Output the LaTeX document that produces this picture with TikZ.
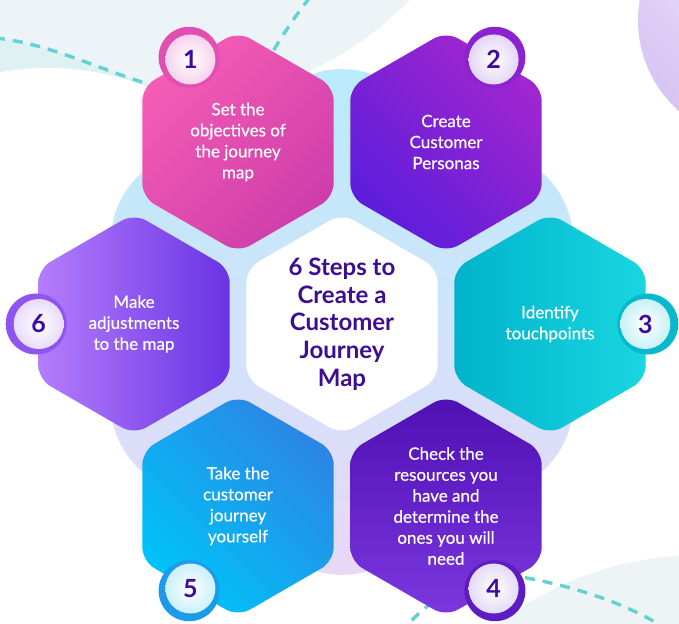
\documentclass[tikz,border=0pt]{standalone}
\usepackage{fontspec}
\setmainfont{Lato}
\newfontfamily\stepfont{Lato}[FakeBold=0.5]
\usetikzlibrary{shapes.geometric,calc,positioning}
\definecolor{PaleMist}{HTML}{ECF4F7}
\definecolor{MistLow}{HTML}{EEF3F5}
\definecolor{TealWash}{HTML}{DFF1F1}
\definecolor{DashTeal}{HTML}{62D3D5}
\definecolor{LilacTop}{HTML}{F6F2FD}
\definecolor{LilacLow}{HTML}{D7C4F3}
\definecolor{BackTop}{HTML}{B8ECFB}
\definecolor{BackMid}{HTML}{D0E3FA}
\definecolor{BackLow}{HTML}{EAD7F8}
\definecolor{TitleInk}{HTML}{3E0E92}
\definecolor{BadgeInk}{HTML}{3D0BA0}
\definecolor{PinkHi}{HTML}{F55DB4}
\definecolor{PinkLo}{HTML}{CD3DAB}
\definecolor{PinkRing}{HTML}{E24FB3}
\definecolor{PinkTint}{HTML}{F6D3EC}
\definecolor{GrapeHi}{HTML}{A226CF}
\definecolor{GrapeLo}{HTML}{5C1DDA}
\definecolor{GrapeRing}{HTML}{8B22D0}
\definecolor{GrapeTint}{HTML}{E3D6F6}
\definecolor{TealLeft}{HTML}{00B3CB}
\definecolor{TealRight}{HTML}{1AD6E1}
\definecolor{TealRing}{HTML}{0AB8CD}
\definecolor{TealTint}{HTML}{C9F1F6}
\definecolor{IndigoHi}{HTML}{4E0FB3}
\definecolor{IndigoLo}{HTML}{7B38DF}
\definecolor{IndigoRing}{HTML}{5C1CC2}
\definecolor{IndigoTint}{HTML}{E4DAF7}
\definecolor{SkyHi}{HTML}{2C85E4}
\definecolor{SkyLo}{HTML}{00C3F8}
\definecolor{SkyRing}{HTML}{1C9BEB}
\definecolor{SkyTint}{HTML}{CAF0FA}
\definecolor{VioletLeft}{HTML}{B47DFC}
\definecolor{VioletRight}{HTML}{6A33E4}
\definecolor{VioletRing}{HTML}{8E55F0}
\definecolor{VioletTint}{HTML}{E8DCFB}

\begin{document}
\begin{tikzpicture}[x=1pt,y=-1pt,
    stephex/.style={regular polygon,regular polygon sides=6,
      shape border rotate=30,minimum size=221pt,inner sep=0pt,
      rounded corners=14pt},
    steptext/.style={align=center,text=white,
      font=\stepfont\fontsize{17}{21}\selectfont},
    badgering/.style={circle,minimum size=61pt,inner sep=0pt},
    badgecore/.style={circle,minimum size=50pt,inner sep=0pt,
      text=BadgeInk,font=\fontsize{25}{25}\selectfont\bfseries},
    dashline/.style={DashTeal,line width=3.4pt,dash pattern=on 10pt off 8pt}]
        % frame
        \useasboundingbox (0,0) rectangle (679,623);
        \clip (0,0) rectangle (679,623);
        \fill[white] (0,0) rectangle (679,623);
        % corner washes
        \fill[PaleMist] (175,-225) circle[radius=325pt];
        \fill[TealWash] (-5,38) .. controls (70,45) and (140,95) .. (215,95)
              -- (215,200) -- (-5,200) -- cycle;
        \fill[white] (48,332) circle[radius=264pt];
        \draw[dashline] (-5,38) .. controls (70,45) and (140,95) .. (215,95)
              .. controls (245,95) and (262,70) .. (275,48)
              .. controls (288,27) and (298,12) .. (312,-5);
        \fill[MistLow] (700,885) circle[radius=330pt];
        \draw[dashline] (400,634) .. controls (430,595) and (480,568) .. (527,578)
              .. controls (580,588) and (630,605) .. (668,630);
        \shade[top color=LilacTop,bottom color=LilacLow,shading angle=-45]
              (760,20) circle[radius=122pt];
        % backdrop
        \node[regular polygon,regular polygon sides=6,shape border rotate=30,
              minimum size=532pt,inner sep=0pt,rounded corners=45pt,
              top color=BackTop,bottom color=BackLow,middle color=BackMid]
              (backhex) at (342,322) {};
        % steps
        \node[stephex,top color=PinkHi,bottom color=PinkLo,shading angle=45]
              (h1) at (238,142) {};
        \node[stephex,top color=GrapeHi,bottom color=GrapeLo,shading angle=-45]
              (h2) at (446,142) {};
        \node[stephex,left color=TealLeft,right color=TealRight]
              (h3) at (550,324) {};
        \node[stephex,top color=IndigoHi,bottom color=IndigoLo]
              (h4) at (446,506) {};
        \node[stephex,top color=SkyHi,bottom color=SkyLo,shading angle=-45]
              (h5) at (238,506) {};
        \node[stephex,left color=VioletLeft,right color=VioletRight]
              (h6) at (134,324) {};
        \node[stephex,fill=white] (hub) at (342,324) {};
        % texts
        \node[steptext] (t1) at (h1) {Set the\\objectives of\\the journey\\map};
        \node[steptext] (t2) at (h2) {Create\\Customer\\Personas};
        \node[steptext] (t3) at (h3) {Identify\\touchpoints};
        \node[steptext] (t4) at (h4)
              {Check the\\resources you\\have and\\determine the\\ones you will\\need};
        \node[steptext] (t5) at (h5) {Take the\\customer\\journey\\yourself};
        \node[steptext] (t6) at (h6) {Make\\adjustments\\to the map};
        \node[align=center,text=TitleInk,
              font=\fontsize{24}{27.7}\selectfont\bfseries]
              (title) at (hub) {6 Steps to\\Create a\\Customer\\Journey\\Map};
        % badges
        \node[badgering,fill=PinkRing] (r1) at ($(h1)+(-48.9,-84.7)$) {};
        \node[badgecore,inner color=white,outer color=PinkTint]
              (b1) at ($(h1)+(-47.6,-82.5)$) {1};
        \node[badgering,fill=GrapeRing] (r2) at ($(h2)+(48.9,-84.7)$) {};
        \node[badgecore,inner color=white,outer color=GrapeTint]
              (b2) at ($(h2)+(47.6,-82.5)$) {2};
        \node[badgering,fill=TealRing] (r3) at ($(h3)+(97.8,0)$) {};
        \node[badgecore,inner color=white,outer color=TealTint]
              (b3) at ($(h3)+(95.3,0)$) {3};
        \node[badgering,fill=IndigoRing] (r4) at ($(h4)+(48.9,84.7)$) {};
        \node[badgecore,inner color=white,outer color=IndigoTint]
              (b4) at ($(h4)+(47.6,82.5)$) {4};
        \node[badgering,fill=SkyRing] (r5) at ($(h5)+(-48.9,84.7)$) {};
        \node[badgecore,inner color=white,outer color=SkyTint]
              (b5) at ($(h5)+(-47.6,82.5)$) {5};
        \node[badgering,fill=VioletRing] (r6) at ($(h6)+(-97.8,0)$) {};
        \node[badgecore,inner color=white,outer color=VioletTint]
              (b6) at ($(h6)+(-95.3,0)$) {6};
\end{tikzpicture}
\end{document}
